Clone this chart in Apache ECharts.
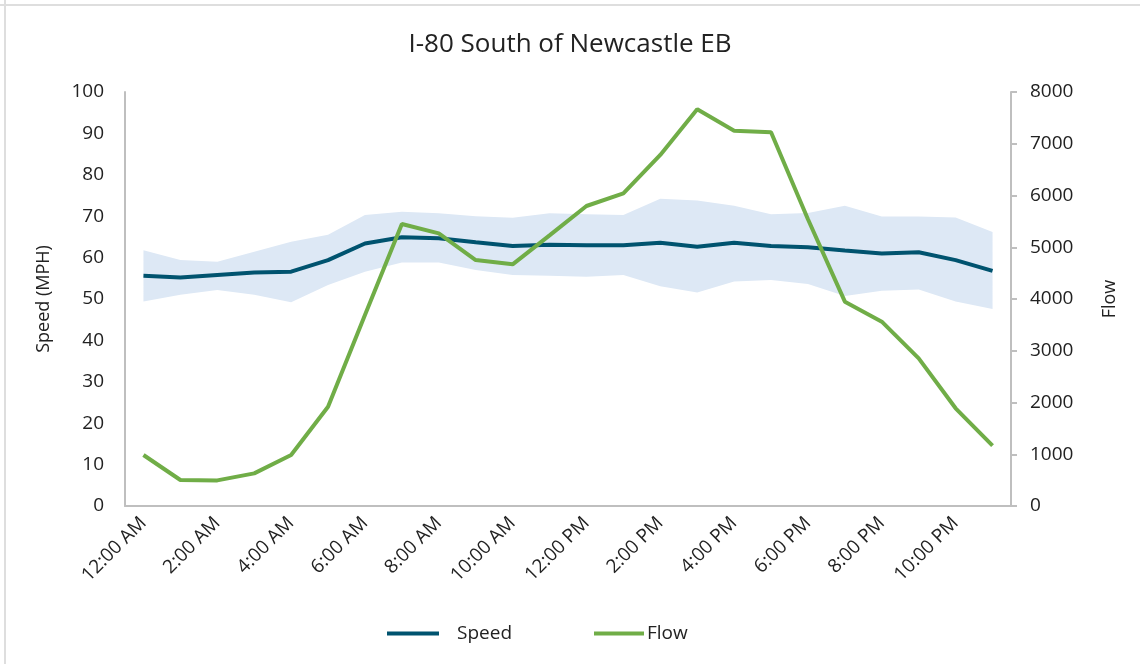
<!DOCTYPE html>
<html>
<head>
<meta charset="utf-8">
<script src="https://cdn.jsdelivr.net/npm/echarts@6/dist/echarts.min.js"></script>
<style>
html,body{margin:0;padding:0;background:#fff;}
#c{width:1140px;height:664px;}
</style>
</head>
<body>
<div id="c"></div>
<script>
var hours = ['12:00 AM','1:00 AM','2:00 AM','3:00 AM','4:00 AM','5:00 AM','6:00 AM','7:00 AM','8:00 AM','9:00 AM','10:00 AM','11:00 AM',
             '12:00 PM','1:00 PM','2:00 PM','3:00 PM','4:00 PM','5:00 PM','6:00 PM','7:00 PM','8:00 PM','9:00 PM','10:00 PM','11:00 PM'];
var speed = [55.6,55.2,55.8,56.4,56.6,59.4,63.4,64.9,64.7,63.7,62.8,63.1,63.0,63.0,63.6,62.6,63.6,62.8,62.5,61.7,61.0,61.3,59.4,56.8];
var flow = [985,502,495,631,985,1919,3691,5449,5269,4753,4670,5230,5797,6042,6783,7665,7253,7221,5540,3948,3562,2853,1888,1166];
var speedUpper = [61.8,59.4,59.0,61.4,63.8,65.5,70.3,71.1,70.7,70.0,69.6,70.7,70.5,70.3,74.2,73.8,72.5,70.5,70.8,72.5,69.9,69.9,69.7,66.2];
var speedLower = [49.4,51.0,52.2,51.0,49.2,53.4,56.6,58.8,58.8,57.0,55.8,55.6,55.4,55.8,53.1,51.6,54.2,54.6,53.6,50.7,52.0,52.3,49.4,47.6];
var speedTicks = [0,10,20,30,40,50,60,70,80,90,100];
var flowTicks = [0,1000,2000,3000,4000,5000,6000,7000,8000];

var bandSpan = speedUpper.map(function(u,i){ return +(u - speedLower[i]).toFixed(2); });
var FONT = '"Open Sans", "Noto Sans", sans-serif';
var TXT = '#222';

var chart = echarts.init(document.getElementById('c'), null, {renderer:'canvas'});
chart.setOption({
  animation:false,
  backgroundColor:'#fff',
  textStyle:{fontFamily:FONT, color:TXT},
  title:{
    text:'I-80 South of Newcastle EB',
    left:'center', top:27,
    textStyle:{fontFamily:FONT, fontSize:26, fontWeight:'normal', color:TXT}
  },
  graphic:[
    {type:'line', shape:{x1:5,y1:0,x2:5,y2:664}, style:{stroke:'#dedede', lineWidth:2}},
    {type:'line', shape:{x1:0,y1:5,x2:1140,y2:5}, style:{stroke:'#dedede', lineWidth:2}}
  ],
  legend:[
    {left:382, top:619, itemWidth:52, itemHeight:4, icon:'rect', itemGap:0,
     data:[{name:'Speed'}],
     textStyle:{fontFamily:FONT, fontSize:19, color:TXT, padding:[0,0,0,13]}},
    {left:589, top:619, itemWidth:50, itemHeight:4, icon:'rect', itemGap:0,
     data:[{name:'Flow'}],
     textStyle:{fontFamily:FONT, fontSize:19, color:TXT, padding:[0,0,0,-2]}}
  ],
  grid:{left:125, right:129, top:92, bottom:158},
  xAxis:{
    type:'category', data:hours, boundaryGap:true,
    axisLine:{lineStyle:{color:'#bfbfbf', width:2}},
    axisTick:{show:false},
    axisLabel:{interval:1, rotate:45, margin:14, fontFamily:FONT, fontSize:19, color:TXT}
  },
  yAxis:[
    {type:'value', min:0, max:100, interval:10, position:'left',
     name:'Speed (MPH)', nameLocation:'middle', nameRotate:90, nameGap:72,
     nameTextStyle:{fontFamily:FONT, fontSize:18, color:TXT},
     axisLine:{show:true, lineStyle:{color:'#bfbfbf', width:2}},
     axisTick:{show:false}, splitLine:{show:false},
     axisLabel:{margin:21, fontFamily:FONT, fontSize:19, color:TXT,
       formatter:function(v){ return speedTicks.indexOf(v)>=0 ? String(v) : ''; }}},
    {type:'value', min:0, max:8000, interval:1000, position:'right',
     name:'Flow', nameLocation:'middle', nameRotate:90, nameGap:90,
     nameTextStyle:{fontFamily:FONT, fontSize:18, color:TXT},
     axisLine:{show:true, lineStyle:{color:'#bfbfbf', width:2}},
     axisTick:{show:true, length:6, lineStyle:{color:'#bfbfbf', width:2}}, splitLine:{show:false},
     axisLabel:{margin:19, fontFamily:FONT, fontSize:19, color:TXT,
       formatter:function(v){ return flowTicks.indexOf(v)>=0 ? String(v) : ''; }}}
  ],
  series:[
    {name:'bandLower', type:'line', yAxisIndex:0, stack:'band', data:speedLower,
     symbol:'none', lineStyle:{opacity:0}, silent:true},
    {name:'bandSpan', type:'line', yAxisIndex:0, stack:'band', data:bandSpan,
     symbol:'none', lineStyle:{opacity:0}, areaStyle:{color:'#dde8f5', opacity:1}, silent:true},
    {name:'Speed', type:'line', yAxisIndex:0, data:speed, symbol:'none',
     lineStyle:{color:'#00536f', width:4}, itemStyle:{color:'#00536f'}, z:3},
    {name:'Flow', type:'line', yAxisIndex:1, data:flow, symbol:'none',
     lineStyle:{color:'#70ad47', width:4}, itemStyle:{color:'#70ad47'}, z:4}
  ]
});
</script>
</body>
</html>
